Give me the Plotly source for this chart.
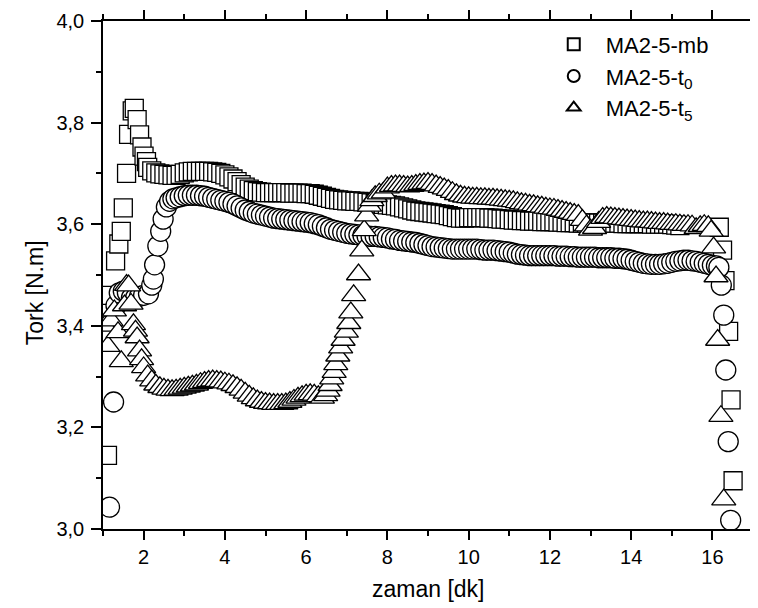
import plotly.graph_objects as go

# ---------------- data (time in min, torque in N.m) ----------------
STEP = 0.1

# MA2-5-mb (squares)
mb_start_x = [1.11, 1.15, 1.31, 1.39, 1.45, 1.50, 1.58, 1.63, 1.72, 1.77, 1.84, 1.90, 1.96, 2.01, 2.07]
mb_start_y = [3.145, 3.46, 3.528, 3.561, 3.586, 3.632, 3.700, 3.777, 3.823, 3.828, 3.806, 3.776, 3.752, 3.734, 3.723]
mb_body_x0 = 2.1
mb_body_y = [
    3.712, 3.705, 3.701, 3.699, 3.698, 3.697, 3.696, 3.696, 3.698, 3.701,
    3.703, 3.704, 3.704, 3.704, 3.704, 3.704, 3.703, 3.702, 3.700, 3.697,
    3.693, 3.689, 3.684, 3.678, 3.673, 3.669, 3.666, 3.664, 3.663, 3.662,
    3.662, 3.662, 3.662, 3.662, 3.662, 3.661, 3.661, 3.661, 3.661, 3.660,
    3.660, 3.659, 3.657, 3.655, 3.653, 3.651, 3.649, 3.648, 3.647, 3.646,
    3.646, 3.645, 3.645, 3.644, 3.643, 3.642, 3.641, 3.640, 3.639, 3.638,
    3.637, 3.636, 3.634, 3.632, 3.630, 3.628, 3.626, 3.625, 3.624, 3.623,
    3.622, 3.621, 3.620, 3.619, 3.617, 3.615, 3.613, 3.612, 3.612, 3.613,
    3.613, 3.613, 3.613, 3.613, 3.612, 3.612, 3.611, 3.610, 3.610, 3.609,
    3.608, 3.608, 3.607, 3.607, 3.606, 3.606, 3.606, 3.605, 3.605, 3.605,
    3.605, 3.604, 3.604, 3.603, 3.603, 3.603, 3.602, 3.602, 3.602, 3.602,
    3.602, 3.602, 3.602, 3.602, 3.602, 3.602, 3.602, 3.601, 3.601, 3.601,
    3.601, 3.601, 3.601, 3.601, 3.600, 3.600, 3.600, 3.600, 3.600, 3.599,
    3.598, 3.597,
]
mb_end_x = [16.17, 16.25, 16.31, 16.40, 16.46, 16.51]
mb_end_y = [3.594, 3.549, 3.489, 3.389, 3.254, 3.095]

# MA2-5-t0 (circles)
t0_start_x = [1.16, 1.26, 1.32, 1.40, 1.50, 1.60, 1.70, 1.80, 1.90, 2.00, 2.12, 2.20, 2.24, 2.27, 2.35, 2.42, 2.48, 2.56, 2.64, 2.72]
t0_start_y = [3.043, 3.250, 3.440, 3.465, 3.468, 3.465, 3.455, 3.455, 3.458, 3.460, 3.463, 3.480, 3.492, 3.520, 3.557, 3.586, 3.610, 3.634, 3.645, 3.650]
t0_body_x0 = 2.8
t0_body_y = [
    3.652, 3.654, 3.656, 3.657, 3.657, 3.657, 3.656, 3.655, 3.653, 3.651,
    3.649, 3.647, 3.645, 3.643, 3.640, 3.636, 3.632, 3.628, 3.625, 3.622,
    3.620, 3.618, 3.616, 3.614, 3.612, 3.611, 3.610, 3.609, 3.608, 3.607,
    3.606, 3.605, 3.604, 3.603, 3.601, 3.599, 3.596, 3.593, 3.590, 3.588,
    3.586, 3.584, 3.582, 3.581, 3.580, 3.579, 3.578, 3.577, 3.576, 3.576,
    3.575, 3.574, 3.573, 3.571, 3.570, 3.568, 3.567, 3.566, 3.565, 3.564,
    3.562, 3.560, 3.558, 3.556, 3.555, 3.554, 3.553, 3.552, 3.551, 3.551,
    3.551, 3.551, 3.551, 3.551, 3.551, 3.550, 3.549, 3.549, 3.549, 3.548,
    3.547, 3.546, 3.545, 3.543, 3.541, 3.540, 3.539, 3.538, 3.538, 3.538,
    3.538, 3.538, 3.538, 3.538, 3.537, 3.537, 3.537, 3.536, 3.536, 3.535,
    3.535, 3.535, 3.535, 3.535, 3.534, 3.534, 3.534, 3.534, 3.533, 3.533,
    3.532, 3.531, 3.529, 3.527, 3.525, 3.523, 3.522, 3.521, 3.521, 3.521,
    3.522, 3.523, 3.525, 3.527, 3.528, 3.529, 3.529, 3.528, 3.527, 3.525,
    3.523, 3.521, 3.519, 3.518,
]
t0_end_x = [16.16, 16.22, 16.28, 16.33, 16.39, 16.45]
t0_end_y = [3.515, 3.480, 3.421, 3.313, 3.172, 3.017]

# MA2-5-t5 (triangles)
t5_start_x = [1.05, 1.12, 1.20, 1.28, 1.37, 1.45, 1.53, 1.58, 1.63, 1.69, 1.75, 1.80, 1.84, 1.90, 1.95]
t5_start_y = [3.400, 3.360, 3.410, 3.430, 3.387, 3.330, 3.440, 3.480, 3.479, 3.443, 3.403, 3.390, 3.377, 3.351, 3.334]
t5_low_x0 = 2.0
t5_low_y = [
    3.318, 3.302, 3.292, 3.284, 3.279, 3.276, 3.274, 3.273, 3.274, 3.276,
    3.278, 3.280, 3.282, 3.284, 3.287, 3.289, 3.291, 3.292, 3.291, 3.290,
    3.288, 3.286, 3.283, 3.279, 3.274, 3.268, 3.262, 3.257, 3.253, 3.250,
    3.248, 3.247, 3.246, 3.246, 3.246, 3.247, 3.250, 3.254, 3.258, 3.261,
    3.264, 3.265, 3.264, 3.261, 3.258,
]
t5_rise_x = [6.48, 6.54, 6.59, 6.63, 6.69, 6.73, 6.78, 6.85, 6.91, 6.99, 7.05, 7.10, 7.17, 7.29, 7.37, 7.43, 7.49, 7.56, 7.62]
t5_rise_y = [3.263, 3.272, 3.283, 3.296, 3.309, 3.324, 3.341, 3.357, 3.372, 3.388, 3.405, 3.426, 3.460, 3.501, 3.548, 3.588, 3.617, 3.636, 3.647]
t5_high_x0 = 7.7
t5_high_y = [
    3.655, 3.660, 3.662, 3.672, 3.675, 3.676, 3.676, 3.675, 3.674, 3.675,
    3.677, 3.679, 3.680, 3.681, 3.679, 3.676, 3.673, 3.670, 3.667, 3.663,
    3.659, 3.656, 3.654, 3.653, 3.652, 3.652, 3.651, 3.651, 3.650, 3.650,
    3.649, 3.648, 3.647, 3.646, 3.645, 3.643, 3.641, 3.640, 3.638, 3.637,
    3.635, 3.634, 3.632, 3.631, 3.630, 3.628, 3.626, 3.624, 3.622, 3.620,
    3.618, 3.608, 3.597, 3.589, 3.592, 3.604, 3.612, 3.614, 3.613, 3.612,
    3.611, 3.610, 3.609, 3.608, 3.607, 3.606, 3.605, 3.605, 3.604, 3.603,
    3.602, 3.602, 3.601, 3.600, 3.600, 3.599, 3.598, 3.598, 3.597, 3.592,
    3.596, 3.598, 3.596,
]
t5_end_x = [15.97, 16.03, 16.09, 16.13, 16.21, 16.28]
t5_end_y = [3.587, 3.554, 3.497, 3.372, 3.222, 3.058]

series_names = ["MA2-5-mb", "MA2-5-t<sub>0</sub>", "MA2-5-t<sub>5</sub>"]
x_ticks = [2, 4, 6, 8, 10, 12, 14, 16]
y_ticks = [3.0, 3.2, 3.4, 3.6, 3.8, 4.0]


def grid(x0, n):
    return [round(x0 + STEP * i, 2) for i in range(n)]


mb_x = mb_start_x + grid(mb_body_x0, len(mb_body_y)) + mb_end_x
mb_y = mb_start_y + mb_body_y + mb_end_y
t0_x = t0_start_x + grid(t0_body_x0, len(t0_body_y)) + t0_end_x
t0_y = t0_start_y + t0_body_y + t0_end_y
t5_x = t5_start_x + grid(t5_low_x0, len(t5_low_y)) + t5_rise_x + grid(t5_high_x0, len(t5_high_y)) + t5_end_x
t5_y = t5_start_y + t5_low_y + t5_rise_y + t5_high_y + t5_end_y

FONT = "Liberation Sans, Arial, sans-serif"

fig = go.Figure()
for name, xs, ys, sym, size in [
    (series_names[0], mb_x, mb_y, "square", 18),
    (series_names[1], t0_x, t0_y, "circle", 20),
    (series_names[2], t5_x, t5_y, "triangle-up", 21),
]:
    fig.add_trace(go.Scatter(
        x=xs, y=ys, mode="markers", name=name,
        marker=dict(symbol=sym, size=size, color="white",
                    line=dict(color="black", width=1.3)),
    ))

axis_common = dict(
    showline=True, linecolor="black", linewidth=1.5, mirror="ticks",
    ticks="outside", tickcolor="black", tickwidth=1.5, showgrid=False, zeroline=False,
    tickfont=dict(family=FONT, size=20, color="black"),
)
fig.update_xaxes(range=[1, 17], tickvals=x_ticks, ticklen=9,
                 minor=dict(dtick=1, tick0=1, ticklen=5, ticks="outside", tickcolor="black", tickwidth=1.5),
                 **axis_common)
fig.update_yaxes(range=[3.0, 4.0], tickvals=y_ticks, tickformat=".1f", ticklen=10,
                 ticklabelstandoff=3,
                 minor=dict(dtick=0.1, tick0=3.0, ticklen=5, ticks="outside", tickcolor="black", tickwidth=1.5),
                 **axis_common)

fig.update_layout(
    width=758, height=608,
    margin=dict(l=95, r=1, t=13, b=87),
    paper_bgcolor="white", plot_bgcolor="white",
    separators=", ",
    font=dict(family=FONT, color="black"),
    showlegend=True,
    legend=dict(x=0.675, y=0.995, xanchor="left", yanchor="top",
                bgcolor="rgba(0,0,0,0)", itemwidth=54, itemsizing="constant",
                font=dict(family=FONT, size=22, color="black"), tracegroupgap=0),
    annotations=[
        dict(text="zaman [dk]", xref="paper", yref="paper", x=(427 - 95) / 662, y=(521 - 581) / 508,
             xanchor="center", yanchor="middle", showarrow=False, font=dict(family=FONT, size=23)),
        dict(text="Tork [N.m]", xref="paper", yref="paper", x=(26 - 95) / 662, y=(521 - 285) / 508,
             xanchor="center", yanchor="middle", textangle=-90, showarrow=False, font=dict(family=FONT, size=23)),
    ],
)

fig.write_html("out.html")
